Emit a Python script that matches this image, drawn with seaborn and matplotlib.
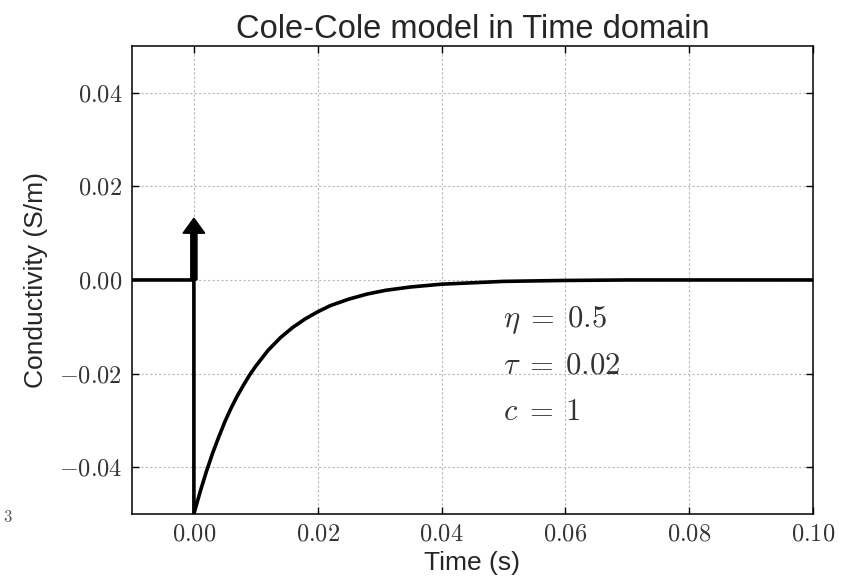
import numpy as np
import pandas as pd
import matplotlib
matplotlib.use("Agg")
import matplotlib.pyplot as plt
from matplotlib.ticker import FuncFormatter, MultipleLocator
import seaborn as sns

# Time-domain conductivity response (s, S/m)
time_s = [-0.010, 0.000, 0.000, 0.001, 0.002, 0.003, 0.004, 0.005, 0.006,
          0.007, 0.008, 0.009, 0.010, 0.012, 0.014, 0.016, 0.018, 0.020,
          0.022, 0.025, 0.028, 0.031, 0.035, 0.040, 0.045, 0.050, 0.060,
          0.070, 0.080, 0.090, 0.100]
conductivity = [0.0, 0.0, -0.0500, -0.0453, -0.0410, -0.0371, -0.0336,
                -0.0303, -0.0274, -0.0248, -0.0225, -0.0203, -0.0184,
                -0.0150, -0.0123, -0.0101, -0.0083, -0.0068, -0.0055,
                -0.0041, -0.0030, -0.0022, -0.0015, -0.0009, -0.0006,
                -0.0003, -0.0001, 0.0, 0.0, 0.0, 0.0]

# Impulse (delta) at t = 0
impulse_t = 0.0
impulse_height = 0.01

params = [r"$\eta\;=\;0.5$", r"$\tau\;=\;0.02$", r"$c\;=\;1$"]
params_y = [-0.01, -0.02, -0.03]
params_x = 0.05

sns.set_style("ticks")
plt.rcParams["font.family"] = ["Liberation Sans", "DejaVu Sans"]
plt.rcParams["mathtext.fontset"] = "cm"

df = pd.DataFrame({"t": time_s, "sigma": conductivity})

fig = plt.figure(figsize=(8.46, 5.79), dpi=100)
ax = fig.add_axes([0.156, 0.1123, 0.805, 0.8083])

sns.lineplot(data=df, x="t", y="sigma", sort=False, estimator=None,
             color="k", linewidth=2.6, ax=ax)

ax.arrow(impulse_t, 0.0, 0.0, impulse_height, width=0.001,
         head_width=0.0035, head_length=0.0032, fc="k", ec="k",
         length_includes_head=False, zorder=3)

for label, y in zip(params, params_y):
    ax.text(params_x, y, label, fontsize=22, color="#333333")

ax.set_xlim(-0.01, 0.10)
ax.set_ylim(-0.05, 0.05)
ax.xaxis.set_major_locator(MultipleLocator(0.02))
ax.yaxis.set_major_locator(MultipleLocator(0.02))
fmt = FuncFormatter(lambda v, p: r"$%.2f$" % (0.0 if abs(v) < 1e-12 else v))
ax.xaxis.set_major_formatter(fmt)
ax.yaxis.set_major_formatter(fmt)

ax.grid(True, color="#b8b8b8", linestyle=(0, (2, 2)), linewidth=0.8)
ax.set_axisbelow(True)
ax.tick_params(direction="in", length=5, width=1, top=True, right=True,
               labelsize=17.5, colors="k", labelcolor="#333333", pad=7)
for s in ax.spines.values():
    s.set_linewidth(1.1)
    s.set_color("k")

ax.set_xlabel("Time (s)", fontsize=19, labelpad=4)
ax.set_ylabel("Conductivity (S/m)", fontsize=19, labelpad=8)
ax.set_title("Cole-Cole model in Time domain", fontsize=23.5, pad=6)

fig.text(3 / 846, 1 - 522 / 579, r"$3$", ha="left", va="baseline",
         fontsize=12, color="#555555")

fig.savefig("out.png", dpi=100, facecolor="white")
